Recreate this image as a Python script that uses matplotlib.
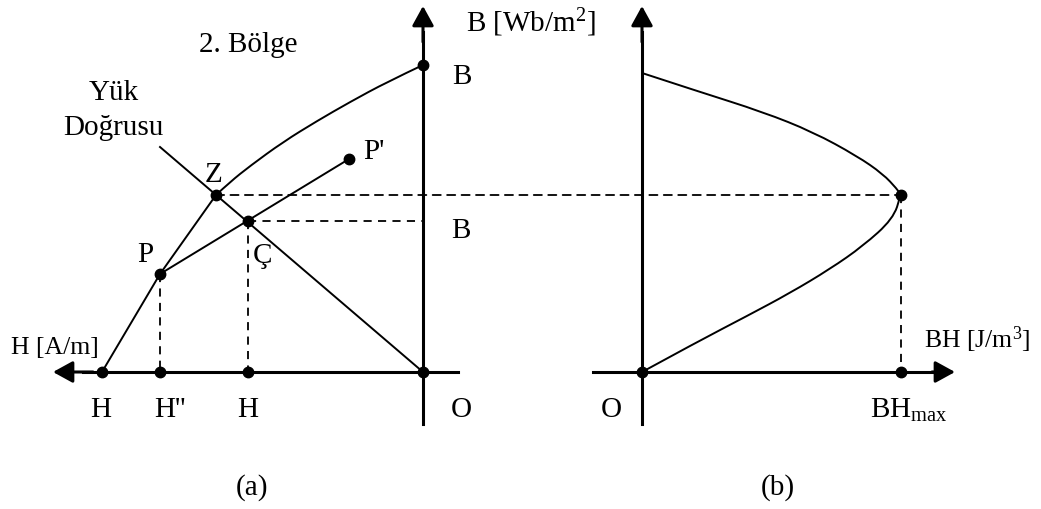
import matplotlib.pyplot as plt
from matplotlib.patches import ConnectionPatch, PathPatch
from matplotlib.path import Path

plt.rcParams['font.family'] = 'Liberation Serif'
plt.rcParams['mathtext.fontset'] = 'custom'
plt.rcParams['mathtext.rm'] = 'Liberation Serif'
plt.rcParams['mathtext.it'] = 'Liberation Serif:italic'

# demagnetisation curve in the 2nd quadrant (H is negative)
demag_H = [-3.21, -2.63, -2.07, -1.93, -1.73, -1.40, -1.06, -0.73, -0.36, 0.0]
demag_B = [0.0, 0.98, 1.77, 1.90, 2.06, 2.30, 2.51, 2.70, 2.90, 3.07]

# load line (through Z and C) and recoil line P -> P'
load_H = [-2.63, 0.0]
load_B = [2.25, 0.0]
recoil_H = [-2.63, -0.74]
recoil_B = [0.98, 2.13]

Z = (-2.07, 1.77)
C = (-1.75, 1.51)
P = (-2.63, 0.98)
P_prime = (-0.74, 2.13)
Br = 3.07
Hc = -3.21

# energy product BH against B
bh_BH = [0.0, 0.55, 1.21, 1.71, 2.15, 2.41, 2.55, 2.59, 2.51, 2.21, 1.88, 1.48, 1.05, 0.55, 0.0]
bh_B = [2.99, 2.81, 2.60, 2.40, 2.16, 1.98, 1.83, 1.77, 1.53, 1.26, 1.03, 0.79, 0.56, 0.30, 0.0]
bh_max = 2.59

FS = 21
FS_UNIT = 18.5
AXIS_LW = 2.2
CURVE_LW = 1.4
DASH = dict(color='black', lw=1.3, linestyle=(0, (4.5, 3.5)))
DOT = dict(marker='o', markersize=7.5, color='black', linestyle='none', zorder=5)

fig = plt.figure(figsize=(10.41, 5.10), dpi=100)
ax1 = fig.add_axes([0, 0, 520 / 1041, 1])
ax2 = fig.add_axes([520 / 1041, 0, 521 / 1041, 1])
ax1.set_xlim(-4.23, 0.97)
ax2.set_xlim(-1.22, 3.99)
for ax in (ax1, ax2):
    ax.set_ylim(-1.37, 3.73)
    ax.axis('off')


def arrow(ax, start, end):
    ax.annotate('', xy=end, xytext=start,
                arrowprops=dict(arrowstyle='-|>,head_length=0.6,head_width=0.33',
                                mutation_scale=20, lw=AXIS_LW, color='black',
                                shrinkA=0, shrinkB=0))


def smooth_curve(ax, xs, ys):
    # quadratic bezier through the midpoints, starting and ending on the end points
    verts = [(xs[0], ys[0])]
    codes = [Path.MOVETO]
    n = len(xs)
    for i in range(1, n - 1):
        if i == n - 2:
            end = (xs[-1], ys[-1])
        else:
            end = ((xs[i] + xs[i + 1]) / 2, (ys[i] + ys[i + 1]) / 2)
        verts += [(xs[i], ys[i]), end]
        codes += [Path.CURVE3, Path.CURVE3]
    ax.add_patch(PathPatch(Path(verts, codes), fill=False, edgecolor='black',
                           lw=CURVE_LW, capstyle='round'))


# (a) B-H plane
ax1.plot([0, 0], [-0.52, 3.4], color='black', lw=AXIS_LW)
arrow(ax1, (0, 3.3), (0, 3.66))
ax1.plot([0.35, -3.4], [0, 0], color='black', lw=AXIS_LW)
arrow(ax1, (-3.3, 0), (-3.70, 0))

ax1.plot(demag_H[:3], demag_B[:3], color='black', lw=CURVE_LW)
smooth_curve(ax1, demag_H[2:], demag_B[2:])
ax1.plot(load_H, load_B, color='black', lw=CURVE_LW)
ax1.plot(recoil_H, recoil_B, color='black', lw=CURVE_LW)

ax1.plot([C[0], 0], [C[1], C[1]], **DASH)
ax1.plot([C[0], C[0]], [C[1], 0], **DASH)
ax1.plot([P[0], P[0]], [P[1], 0], **DASH)

ax1.plot([0, Z[0], C[0], P[0], P_prime[0], Hc, P[0], C[0], 0],
         [Br, Z[1], C[1], P[1], P_prime[1], 0, 0, 0, 0], **DOT)

ax1.text(-1.75, 3.28, '2. Bölge', fontsize=FS, ha='center', va='center')
ax1.text(-3.09, 2.80, 'Yük', fontsize=FS, ha='center', va='center')
ax1.text(-3.10, 2.45, 'Doğrusu', fontsize=FS, ha='center', va='center')
ax1.text(-2.10, 1.98, 'Z', fontsize=FS, ha='center', va='center')
ax1.text(-0.60, 2.21, "P'", fontsize=FS, ha='left', va='center')
ax1.text(-2.78, 1.18, 'P', fontsize=FS, ha='center', va='center')
ax1.text(-1.61, 1.17, 'Ç', fontsize=FS, ha='center', va='center')
ax1.text(0.39, 2.96, 'B', fontsize=FS, ha='center', va='center')
ax1.text(0.38, 1.42, 'B', fontsize=FS, ha='center', va='center')
ax1.text(0.43, 3.50, 'B [Wb/m$^\\mathrm{2}$]', fontsize=FS, ha='left', va='center')
ax1.text(-3.68, 0.25, 'H [A/m]', fontsize=FS_UNIT, ha='center', va='center')
ax1.text(-3.22, -0.37, 'H', fontsize=FS, ha='center', va='center')
ax1.text(-2.53, -0.37, "H''", fontsize=FS, ha='center', va='center')
ax1.text(-1.75, -0.37, 'H', fontsize=FS, ha='center', va='center')
ax1.text(0.38, -0.37, 'O', fontsize=FS, ha='center', va='center')
ax1.text(-1.71, -1.15, '(a)', fontsize=FS, ha='center', va='center')

# (b) BH-B plane
ax2.plot([0, 0], [-0.52, 3.4], color='black', lw=AXIS_LW)
arrow(ax2, (0, 3.3), (0, 3.66))
ax2.plot([-0.49, 3.0], [0, 0], color='black', lw=AXIS_LW)
arrow(ax2, (2.9, 0), (3.13, 0))

smooth_curve(ax2, bh_BH, bh_B)
ax2.plot([bh_max, bh_max], [Z[1], 0], **DASH)
ax2.plot([0, bh_max, bh_max], [0, Z[1], 0], **DOT)

# dashed link from Z across to the BH maximum
link = ConnectionPatch(xyA=Z, coordsA=ax1.transData,
                       xyB=(bh_max, Z[1]), coordsB=ax2.transData,
                       color='black', lw=1.3, linestyle=(0, (4.5, 3.5)))
fig.add_artist(link)

ax2.text(-0.31, -0.37, 'O', fontsize=FS, ha='center', va='center')
ax2.text(2.28, -0.37, 'BH$_\\mathrm{max}$', fontsize=FS, ha='left', va='center')
ax2.text(3.35, 0.33, 'BH [J/m$^\\mathrm{3}$]', fontsize=FS_UNIT, ha='center', va='center')
ax2.text(1.36, -1.15, '(b)', fontsize=FS, ha='center', va='center')

fig.savefig('out.png', dpi=100)
